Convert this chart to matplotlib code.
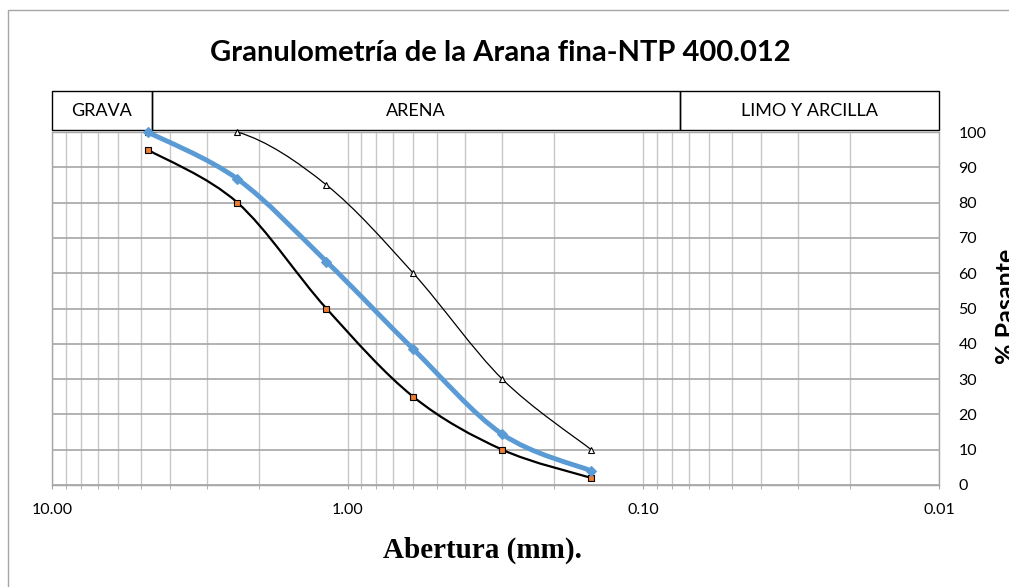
import numpy as np
import matplotlib
matplotlib.use("Agg")
import matplotlib.pyplot as plt
from matplotlib.path import Path
from matplotlib.patches import PathPatch, Rectangle
import matplotlib.transforms as mtransforms

# ---------------- data ----------------
aberturas = [4.75, 2.36, 1.18, 0.60, 0.30, 0.15]
limite_superior = [100, 100, 85, 60, 30, 10]
limite_inferior = [95, 80, 50, 25, 10, 2]
muestra = [100, 86.7, 63.3, 38.5, 14.4, 4.0]
x_ticks = [10, 1, 0.1, 0.01]
x_tick_labels = ["10.00", "1.00", "0.10", "0.01"]
y_ticks = list(range(0, 101, 10))
zonas = ["GRAVA", "ARENA", "LIMO Y ARCILLA"]
zona_limites = [10, 4.6, 0.075, 0.01]
titulo = "Granulometría de la Arana fina-NTP 400.012"
x_label = "Abertura (mm)."
y_label = "% Pasante"


def smooth_path(xs, ys):
    pts = np.column_stack([np.log10(xs), ys]).astype(float)
    n = len(pts)
    verts = [pts[0]]
    codes = [Path.MOVETO]
    for i in range(n - 1):
        p0 = pts[max(i - 1, 0)]
        p1 = pts[i]
        p2 = pts[i + 1]
        p3 = pts[min(i + 2, n - 1)]
        c1 = p1 + (p2 - p0) / 6.0
        c2 = p2 - (p3 - p1) / 6.0
        verts += [c1, c2, p2]
        codes += [Path.CURVE4] * 3
    verts = np.array(verts)
    verts[:, 0] = 10 ** verts[:, 0]
    return Path(verts, codes)


W, H = 1009, 587
fig = plt.figure(figsize=(W / 100, H / 100), dpi=100)
fig.patch.set_facecolor("white")

# outer chart border
fig.patches.append(Rectangle((7.5 / W, -0.05), 1.2, 1 - 10 / H + 0.05,
                             transform=fig.transFigure, fill=False,
                             edgecolor="#A6A6A6", linewidth=1.0))

L, R, T, B = 52, 939, 132, 485
ax = fig.add_axes([L / W, (H - B) / H, (R - L) / W, (B - T) / H])
ax.set_xscale("log")
ax.set_xlim(10, 0.01)
ax.set_ylim(0, 100)

# grid
ax.set_yticks(y_ticks)
ax.set_xticks(x_ticks)
ax.set_xticklabels(x_tick_labels, fontfamily="Lato", fontsize=11.5)
ax.yaxis.tick_right()
for lab in ax.get_yticklabels():
    lab.set_fontfamily("Lato")
    lab.set_fontsize(11.5)
ax.tick_params(axis="y", length=0, pad=14, colors="#333333", labelcolor="black")
ax.tick_params(axis="x", which="major", length=3, color="#A6A6A6", pad=10)
ax.tick_params(axis="x", which="minor", length=3, color="#A6A6A6", labelbottom=False)
ax.grid(True, which="major", axis="y", color="#A6A6A6", linewidth=1.2)
ax.grid(True, which="both", axis="x", color="#C8C8C8", linewidth=1.0)
ax.set_axisbelow(True)
for s in ax.spines.values():
    s.set_color("#A6A6A6")
    s.set_linewidth(1.0)

# series
series = [
    (limite_superior, "black", 0.9, "^", "white", "black", 4.5, 3),
    (limite_inferior, "black", 1.6, "s", "#ED7D31", "black", 5, 3),
    (muestra, "#5B9BD5", 3.5, "D", "#5B9BD5", "#5B9BD5", 5, 4),
]
for ys, col, lw, mk, mfc, mec, ms, z in series:
    patch = PathPatch(smooth_path(aberturas, ys), facecolor="none",
                      edgecolor=col, linewidth=lw, transform=ax.transData,
                      zorder=z, capstyle="round", joinstyle="round")
    patch.set_clip_on(True)
    ax.add_patch(patch)
    ax.plot(aberturas, ys, linestyle="none", marker=mk, markerfacecolor=mfc,
            markeredgecolor=mec, markersize=ms, markeredgewidth=0.8,
            zorder=z + 0.5, clip_on=False)

# header boxes
trans = mtransforms.blended_transform_factory(ax.transData, ax.transAxes)
y0 = (B - 130) / (B - T)
y1 = (B - 91) / (B - T)
for i, name in enumerate(zonas):
    xa, xb = zona_limites[i], zona_limites[i + 1]
    rect = Rectangle((xa, y0), xb - xa, y1 - y0, transform=trans, fill=False,
                     edgecolor="black", linewidth=1.0, clip_on=False)
    ax.add_patch(rect)
    xm = 10 ** ((np.log10(xa) + np.log10(xb)) / 2)
    ax.text(xm, (y0 + y1) / 2, name, transform=trans, ha="center",
            va="center", fontsize=13, fontfamily="Lato")

# titles
fig.text(500 / W, 1 - 53 / H, titulo, ha="center", va="center",
         fontsize=21, fontweight="bold", fontfamily="Lato")
fig.text(482 / W, 1 - 550 / H, x_label, ha="center", va="center",
         fontsize=21, fontweight="bold", fontfamily="Liberation Serif")
fig.text(1006 / W, 1 - 306 / H, y_label, ha="center", va="center",
         rotation=90, fontsize=18, fontweight="bold", fontfamily="Lato")

fig.savefig("out.png", dpi=100)
